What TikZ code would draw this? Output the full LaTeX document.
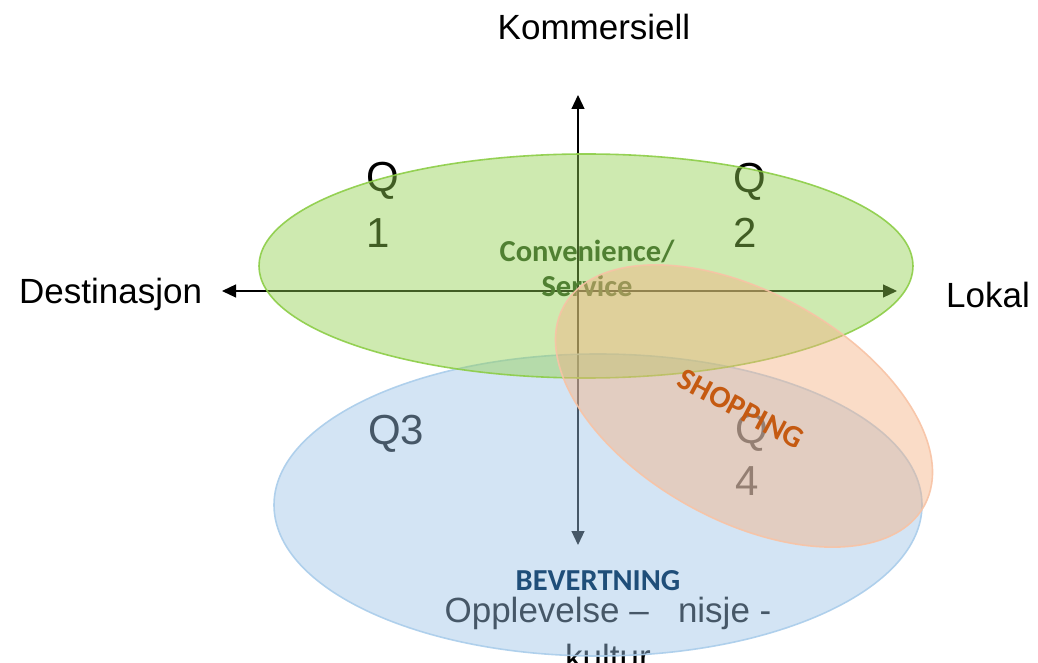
\documentclass[tikz,border=0pt]{standalone}
\usepackage{fontspec}
\setmainfont{Liberation Sans}
\newfontfamily\calibri{Carlito}
\usetikzlibrary{arrows.meta}
\definecolor{grfill}{RGB}{146,208,80}
\definecolor{grline}{RGB}{140,205,70}
\definecolor{blfill}{RGB}{157,195,230}
\definecolor{blline}{RGB}{170,205,235}
\definecolor{orfill}{RGB}{244,177,131}
\definecolor{orline}{RGB}{248,195,165}
\definecolor{convtext}{RGB}{80,128,50}
\definecolor{shoptext}{RGB}{197,90,17}
\definecolor{bevtext}{RGB}{31,78,121}
\tikzset{
  axis/.style={line width=1.2pt, black, {Triangle[length=14pt,width=13pt]}-{Triangle[length=14pt,width=13pt]}},
  biglabel/.style={inner sep=0pt, font=\fontsize{35}{40}\selectfont},
  qlabel/.style={inner sep=0pt, anchor=base west, font=\fontsize{42}{50}\selectfont},
  catlabel/.style={inner sep=0pt, anchor=base, font=\calibri\bfseries\fontsize{30.5}{36}\selectfont},
  zone/.style={fill opacity=0.45, draw opacity=0.9, line width=1.6pt},
}
\begin{document}
\begin{tikzpicture}[x=1pt,y=1pt]
\useasboundingbox (0,0) rectangle (1038,662);
% axes
\coordinate (top) at (578,567);
\coordinate (bottom) at (578,117);
\coordinate (left) at (222,371);
\coordinate (right) at (897,371);
\draw[axis] (left) -- (right);
\draw[axis] (bottom) -- (top);
% axis labels
\node[biglabel, anchor=base] (komm) at (594,622) {Kommersiell};
\node[biglabel, anchor=base west] (dest) at (19,358) {Destinasjon};
\node[biglabel, anchor=base west] (lokal) at (946,354) {Lokal};
% quadrant labels
\node[qlabel] (q1a) at (366,470) {Q};
\node[qlabel] (q1b) at (366,414) {1};
\node[qlabel] (q2a) at (733,469) {Q};
\node[qlabel] (q2b) at (733,414) {2};
\node[qlabel] (q3) at (368,218) {Q3};
\node[qlabel] (q4a) at (735,219) {Q};
\node[qlabel] (q4b) at (735,167) {4};
% bottom text
\node[biglabel, anchor=base] (opp) at (608,40) {Opplevelse –\ \ \ nisje -};
\node[biglabel, anchor=base] (kult) at (608,-7) {kultur};
% zones
\draw[zone, fill=blfill, draw=blline] (598,157) ellipse [x radius=324, y radius=151];
\draw[zone, fill=grfill, draw=grline] (586,396) ellipse [x radius=327, y radius=112];
\node[catlabel, text=convtext] (conv) at (587,400) {Convenience/};
\node[catlabel, text=convtext] (serv) at (587,365) {Service};
\draw[zone, fill=orfill, draw=orline, rotate around={-29:(744,256)}] (744,256) ellipse [x radius=206, y radius=114];
\node[inner sep=0pt, font=\calibri\bfseries\fontsize{31}{36}\selectfont, text=shoptext, rotate=-28] (shop) at (741,253) {SHOPPING};
\node[catlabel, text=bevtext] (bev) at (598,72) {BEVERTNING};
\end{tikzpicture}
\end{document}
